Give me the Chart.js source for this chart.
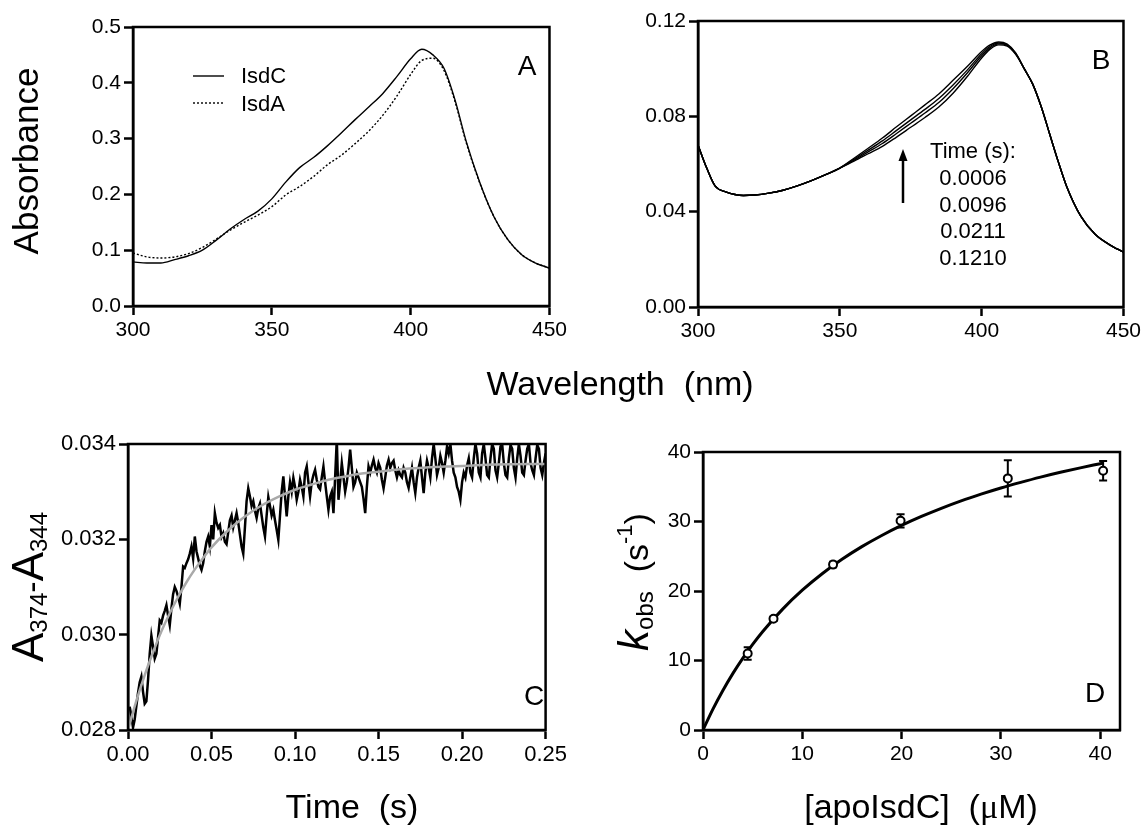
<!DOCTYPE html>
<html><head>
<meta charset="utf-8">
<title>IsdC spectra and kinetics</title>
<style>
  body { margin: 0; background: #fff; }
  #page { position: relative; width: 1144px; height: 831px; }
  canvas { position: absolute; }
  #wl { position: absolute; left: 420px; top: 363px; width: 400px; text-align: center;
        font: 34px 'Liberation Sans', Arial, sans-serif; line-height: 40px; white-space: pre; color: #000; }
</style>
</head>
<body>
<div id="page">
  <canvas id="chartA" width="570" height="345" style="left:0;top:0"></canvas>
  <canvas id="chartB" width="574" height="345" style="left:570px;top:0"></canvas>
  <canvas id="chartC" width="570" height="486" style="left:0;top:345px"></canvas>
  <canvas id="chartD" width="574" height="486" style="left:570px;top:345px"></canvas>
  <div id="wl">Wavelength  (nm)</div>
</div>
<script src="https://cdn.jsdelivr.net/npm/chart.js"></script>
<script>
const SANS = "'Liberation Sans', Arial, Helvetica, sans-serif";
Chart.defaults.font.family = SANS;
Chart.defaults.color = '#000';
Chart.defaults.animation = false;

// A: spectra of holo IsdC and IsdA
const aWave = [300, 305, 310, 315, 320, 325, 330, 335, 340, 345, 350, 355, 360, 365, 370, 375, 380,
               385, 390, 395, 400, 404, 408, 412, 416, 420, 425, 430, 435, 440, 445, 450];
const aIsdC = [0.079, 0.077, 0.077, 0.083, 0.090, 0.100, 0.118, 0.138, 0.155, 0.170, 0.192, 0.222, 0.248,
               0.266, 0.287, 0.310, 0.334, 0.357, 0.381, 0.411, 0.443, 0.460, 0.450, 0.426, 0.369, 0.295,
               0.220, 0.160, 0.119, 0.092, 0.077, 0.068];
const aIsdA = [0.095, 0.088, 0.086, 0.088, 0.094, 0.105, 0.120, 0.136, 0.150, 0.163, 0.178, 0.199, 0.214,
               0.232, 0.253, 0.270, 0.291, 0.314, 0.342, 0.376, 0.415, 0.440, 0.444, 0.422, 0.366, 0.293,
               0.219, 0.160, 0.119, 0.092, 0.077, 0.068];

// B: spectra during transfer, one per time point
const bTimes = ['0.0006', '0.0096', '0.0211', '0.1210'];
const bWave = [300, 303, 306, 310, 313, 316, 320, 325, 330, 335, 340, 345, 350, 355, 360, 365, 370, 375,
               380, 385, 390, 395, 400, 403, 406, 409, 412, 415, 418, 421, 424, 427, 430, 435, 440, 445, 450];
const bSpec1 = [0.0680, 0.0585, 0.0508, 0.0482, 0.0472, 0.0468, 0.0470, 0.0478, 0.0490, 0.0508, 0.0530,
                0.0555, 0.0583, 0.0612, 0.0643, 0.0674, 0.0713, 0.0754, 0.0795, 0.0840, 0.0898, 0.0968,
                0.1045, 0.1082, 0.1100, 0.1095, 0.1060, 0.1000, 0.0935, 0.0840, 0.0725, 0.0610, 0.0505,
                0.0380, 0.0305, 0.0262, 0.0230];
const bSpec2 = [0.0680, 0.0585, 0.0508, 0.0482, 0.0472, 0.0468, 0.0470, 0.0478, 0.0490, 0.0508, 0.0530,
                0.0555, 0.0583, 0.0616, 0.0651, 0.0686, 0.0728, 0.0771, 0.0814, 0.0859, 0.0917, 0.0983,
                0.1054, 0.1088, 0.1104, 0.1098, 0.1062, 0.1000, 0.0935, 0.0840, 0.0725, 0.0610, 0.0505,
                0.0380, 0.0305, 0.0262, 0.0230];
const bSpec3 = [0.0680, 0.0585, 0.0508, 0.0482, 0.0472, 0.0468, 0.0470, 0.0478, 0.0490, 0.0508, 0.0530,
                0.0555, 0.0583, 0.0620, 0.0658, 0.0697, 0.0741, 0.0785, 0.0829, 0.0876, 0.0933, 0.0995,
                0.1063, 0.1094, 0.1108, 0.1100, 0.1064, 0.1000, 0.0935, 0.0840, 0.0725, 0.0610, 0.0505,
                0.0380, 0.0305, 0.0262, 0.0230];
const bSpec4 = [0.0680, 0.0585, 0.0508, 0.0482, 0.0472, 0.0468, 0.0470, 0.0478, 0.0490, 0.0508, 0.0530,
                0.0555, 0.0583, 0.0624, 0.0666, 0.0709, 0.0756, 0.0802, 0.0848, 0.0895, 0.0952, 0.1010,
                0.1072, 0.1100, 0.1112, 0.1103, 0.1066, 0.1000, 0.0935, 0.0840, 0.0725, 0.0610, 0.0505,
                0.0380, 0.0305, 0.0262, 0.0230];

// C: A374-A344 trace (sampled every 1 ms from 1 ms) and its single-exponential fit
const cTraceStart = 0.001;
const cTraceStep = 0.001;
const cTrace = [
  0.02849, 0.02830, 0.02805, 0.02822, 0.02850, 0.02878, 0.02900, 0.02912, 0.02880, 0.02855,
  0.02860, 0.02905, 0.02960, 0.02998, 0.02975, 0.02950, 0.02960, 0.02995, 0.03030, 0.03025,
  0.03040, 0.03050, 0.03062, 0.03040, 0.03020, 0.03055, 0.03085, 0.03100, 0.03092, 0.03080,
  0.03065, 0.03100, 0.03143, 0.03140, 0.03150, 0.03158, 0.03170, 0.03185, 0.03160, 0.03206,
  0.03175, 0.03160, 0.03145, 0.03136, 0.03150, 0.03175, 0.03195, 0.03206, 0.03185, 0.03230,
  0.03200, 0.03255, 0.03235, 0.03224, 0.03230, 0.03205, 0.03213, 0.03195, 0.03190, 0.03215,
  0.03240, 0.03250, 0.03225, 0.03240, 0.03255, 0.03235, 0.03210, 0.03185, 0.03170, 0.03225,
  0.03280, 0.03307, 0.03290, 0.03270, 0.03280, 0.03260, 0.03245, 0.03265, 0.03275, 0.03250,
  0.03225, 0.03206, 0.03250, 0.03289, 0.03270, 0.03250, 0.03262, 0.03240, 0.03220, 0.03199,
  0.03250, 0.03300, 0.03332, 0.03290, 0.03248, 0.03290, 0.03320, 0.03300, 0.03329, 0.03310,
  0.03283, 0.03300, 0.03325, 0.03310, 0.03290, 0.03340, 0.03353, 0.03320, 0.03290, 0.03320,
  0.03335, 0.03346, 0.03325, 0.03310, 0.03305, 0.03330, 0.03353, 0.03320, 0.03290, 0.03262,
  0.03290, 0.03300, 0.03255, 0.03330, 0.03410, 0.03283, 0.03320, 0.03360, 0.03330, 0.03300,
  0.03320, 0.03350, 0.03388, 0.03350, 0.03310, 0.03320, 0.03340, 0.03330, 0.03320, 0.03310,
  0.03285, 0.03255, 0.03310, 0.03353, 0.03340, 0.03355, 0.03367, 0.03350, 0.03340, 0.03360,
  0.03350, 0.03325, 0.03307, 0.03330, 0.03355, 0.03367, 0.03350, 0.03360, 0.03365, 0.03345,
  0.03330, 0.03345, 0.03335, 0.03330, 0.03350, 0.03340, 0.03320, 0.03308, 0.03330, 0.03350,
  0.03320, 0.03297, 0.03330, 0.03350, 0.03365, 0.03330, 0.03297, 0.03340, 0.03365, 0.03350,
  0.03330, 0.03370, 0.03400, 0.03370, 0.03335, 0.03350, 0.03375, 0.03360, 0.03340, 0.03365,
  0.03395, 0.03380, 0.03400, 0.03365, 0.03340, 0.03330, 0.03310, 0.03300, 0.03283, 0.03320,
  0.03340, 0.03330, 0.03355, 0.03370, 0.03340, 0.03330, 0.03370, 0.03400, 0.03380, 0.03340,
  0.03330, 0.03380, 0.03400, 0.03370, 0.03335, 0.03330, 0.03370, 0.03400, 0.03390, 0.03345,
  0.03330, 0.03360, 0.03395, 0.03400, 0.03360, 0.03335, 0.03330, 0.03370, 0.03398, 0.03390,
  0.03350, 0.03330, 0.03370, 0.03400, 0.03375, 0.03340, 0.03335, 0.03365, 0.03390, 0.03400,
  0.03360, 0.03345, 0.03335, 0.03370, 0.03398, 0.03390, 0.03350, 0.03335, 0.03360, 0.03380
];
const cFitTime = [0, 0.005, 0.01, 0.015, 0.02, 0.025, 0.03, 0.035, 0.04, 0.045, 0.05, 0.06, 0.07, 0.08,
                  0.09, 0.10, 0.11, 0.12, 0.13, 0.14, 0.15, 0.16, 0.17, 0.18, 0.19, 0.20, 0.22, 0.24, 0.25];
const cFitAbs = [0.02800, 0.02861, 0.02915, 0.02963, 0.03007, 0.03045, 0.03079, 0.03110, 0.03137, 0.03161,
                 0.03183, 0.03219, 0.03248, 0.03271, 0.03289, 0.03304, 0.03315, 0.03325, 0.03332, 0.03338,
                 0.03342, 0.03346, 0.03349, 0.03351, 0.03353, 0.03354, 0.03357, 0.03358, 0.03358];

// D: observed rate vs apoIsdC concentration, with hyperbolic fit
const dConc = [4.5, 7.1, 13.1, 19.9, 30.7, 40.3];
const dKobs = [11.0, 16.0, 23.8, 30.1, 36.2, 37.3];
const dErr = [0.9, 0.3, 0.4, 0.95, 2.6, 1.4];
const dFitConc = [0, 1, 2, 3, 4, 5, 6, 8, 10, 12, 14, 16, 18, 20, 22, 24, 26, 28, 30, 32, 34, 36, 38, 40, 40.3];
const dFitKobs = [0, 3.00, 5.69, 8.11, 10.31, 12.31, 14.14, 17.36, 20.11, 22.48, 24.56, 26.38, 27.99, 29.44,
                  30.73, 31.90, 32.97, 33.93, 34.82, 35.63, 36.39, 37.08, 37.72, 38.32, 38.41];

function xy(xs, ys) { return xs.map((x, i) => ({ x: x, y: ys[i] })); }

function axis(min, max, step, digits, size, fit) {
  return {
    type: 'linear', min: min, max: max,
    ticks: { stepSize: step, includeBounds: false, padding: 3, color: '#000', font: { size: size },
             callback: v => v.toFixed(digits) },
    grid: { drawOnChartArea: false, drawTicks: true, tickLength: 9, tickWidth: 2.5, tickColor: '#000' },
    border: { display: true, color: '#000', width: 2.5 },
    afterFit: fit
  };
}

// text runs: [text, size, dy, style, family]
function drawRich(ctx, it) {
  ctx.save();
  ctx.translate(it.x, it.y);
  if (it.rot) ctx.rotate(it.rot);
  ctx.fillStyle = '#000';
  ctx.textBaseline = 'alphabetic';
  ctx.textAlign = 'left';
  const fontOf = p => (p[3] || '') + ' ' + p[1] + 'px ' + (p[4] || SANS);
  let w = 0;
  it.parts.forEach(p => { ctx.font = fontOf(p); w += ctx.measureText(p[0]).width; });
  let x = it.align === 'left' ? 0 : -w / 2;
  it.parts.forEach(p => {
    ctx.font = fontOf(p);
    ctx.fillText(p[0], x, p[2] || 0);
    x += ctx.measureText(p[0]).width;
  });
  ctx.restore();
}

// frame round the plot area plus the panel's texts and marks
function notes(items) {
  return {
    id: 'notes',
    afterDraw(chart) {
      const ctx = chart.ctx, a = chart.chartArea;
      ctx.save();
      ctx.strokeStyle = '#000';
      ctx.fillStyle = '#000';
      ctx.lineWidth = 2.5;
      ctx.strokeRect(a.left, a.top, a.right - a.left, a.bottom - a.top);
      items.forEach(it => { if (it.draw) it.draw(ctx); else drawRich(ctx, it); });
      ctx.restore();
    }
  };
}

const errorBars = {
  id: 'errorBars',
  beforeDatasetsDraw(chart) {
    const ctx = chart.ctx, x = chart.scales.x, y = chart.scales.y;
    ctx.save();
    ctx.strokeStyle = '#000';
    ctx.lineWidth = 2;
    dConc.forEach((c, i) => {
      const px = x.getPixelForValue(c);
      const top = y.getPixelForValue(dKobs[i] + dErr[i]);
      const bot = y.getPixelForValue(dKobs[i] - dErr[i]);
      ctx.beginPath();
      ctx.moveTo(px, top); ctx.lineTo(px, bot);
      ctx.moveTo(px - 4, top); ctx.lineTo(px + 4, top);
      ctx.moveTo(px - 4, bot); ctx.lineTo(px + 4, bot);
      ctx.stroke();
    });
    ctx.restore();
  }
};

const baseOpts = { responsive: false, plugins: { legend: { display: false }, tooltip: { enabled: false } } };
const ROT = -Math.PI / 2;

function line(data, extra) {
  return Object.assign({ data: data, borderColor: '#000', borderWidth: 1.4, pointRadius: 0,
                         cubicInterpolationMode: 'monotone' }, extra || {});
}

new Chart(document.getElementById('chartA'), {
  type: 'line',
  data: { datasets: [
    line(xy(aWave, aIsdC), { label: 'IsdC' }),
    line(xy(aWave, aIsdA), { label: 'IsdA', borderDash: [2, 2] })
  ] },
  options: Object.assign({}, baseOpts, {
    layout: { padding: { top: 27, right: 19, bottom: 0, left: 0 } },
    scales: {
      x: axis(300, 450, 50, 0, 21, s => { s.height = 39; }),
      y: axis(0, 0.5, 0.1, 1, 21, s => { s.width = 133; })
    }
  }),
  plugins: [notes([
    { x: 38, y: 161, rot: ROT, parts: [['Absorbance', 35]] },
    { x: 527, y: 75, parts: [['A', 28]] },
    { x: 241, y: 83, align: 'left', parts: [['IsdC', 22]] },
    { x: 241, y: 111, align: 'left', parts: [['IsdA', 22]] },
    { draw: ctx => {
        ctx.lineWidth = 1.4;
        ctx.beginPath(); ctx.moveTo(193, 76); ctx.lineTo(224, 76); ctx.stroke();
        ctx.setLineDash([2, 2]);
        ctx.beginPath(); ctx.moveTo(193, 103); ctx.lineTo(224, 103); ctx.stroke();
        ctx.setLineDash([]);
    } }
  ])]
});

new Chart(document.getElementById('chartB'), {
  type: 'line',
  data: { datasets: [bSpec1, bSpec2, bSpec3, bSpec4].map((s, i) => line(xy(bWave, s), { label: bTimes[i] })) },
  options: Object.assign({}, baseOpts, {
    layout: { padding: { top: 21, right: 20, bottom: 0, left: 0 } },
    scales: {
      x: axis(300, 450, 50, 0, 21, s => { s.height = 38; }),
      y: axis(0, 0.12, 0.04, 2, 21, s => { s.width = 128; })
    }
  }),
  plugins: [notes([
    { x: 531, y: 69, parts: [['B', 28]] },
    { x: 403, y: 158, parts: [['Time (s):', 22]] }
  ].concat(bTimes.map((t, i) => ({ x: 403, y: 185 + i * 26.5, parts: [[t, 22]] }))).concat([
    { draw: ctx => {
        ctx.lineWidth = 2.5;
        ctx.beginPath(); ctx.moveTo(333, 203); ctx.lineTo(333, 158); ctx.stroke();
        ctx.beginPath(); ctx.moveTo(333, 149); ctx.lineTo(328.5, 161); ctx.lineTo(337.5, 161);
        ctx.closePath(); ctx.fill();
    } }
  ]))]
});

new Chart(document.getElementById('chartC'), {
  type: 'line',
  data: { datasets: [
    line(xy(cFitTime, cFitAbs), { label: 'fit', borderColor: '#a9a9a9', borderWidth: 2.5 }),
    line(cTrace.map((v, i) => ({ x: cTraceStart + i * cTraceStep, y: v })),
         { label: 'A374-A344', borderWidth: 2.5, cubicInterpolationMode: 'default', tension: 0 })
  ] },
  options: Object.assign({}, baseOpts, {
    layout: { padding: { top: 99, right: 14, bottom: 0, left: 0 } },
    scales: {
      x: axis(0, 0.25, 0.05, 2, 22, s => { s.height = 101; }),
      y: axis(0.028, 0.034, 0.002, 3, 22, s => { s.width = 128; })
    }
  }),
  plugins: [notes([
    { x: 43, y: 242, rot: ROT, parts: [['A', 44], ['374', 24, 4], ['-', 34], ['A', 44], ['344', 24, 4]] },
    { x: 352, y: 473, parts: [['Time  (s)', 34]] },
    { x: 534, y: 360, parts: [['C', 28]] }
  ])]
});

new Chart(document.getElementById('chartD'), {
  type: 'line',
  data: { datasets: [
    { label: 'kobs', data: xy(dConc, dKobs), showLine: false, pointRadius: 4, pointBorderWidth: 2,
      pointBackgroundColor: '#fff', pointBorderColor: '#000' },
    line(xy(dFitConc, dFitKobs), { label: 'fit', borderWidth: 3 })
  ] },
  options: Object.assign({}, baseOpts, {
    layout: { padding: { top: 107, right: 24, bottom: 0, left: 0 } },
    scales: {
      x: axis(0, 42, 10, 0, 21, s => { s.height = 101; }),
      y: axis(0, 40, 10, 0, 21, s => { s.width = 133; })
    }
  }),
  plugins: [errorBars, notes([
    { x: 78, y: 237, rot: ROT, parts: [['k', 42, 0, 'italic'], ['obs', 24, 5], ['  (s', 34], ['-1', 22, -16], [')', 34]] },
    { x: 351, y: 473, parts: [['[apoIsdC]  (', 34], ['\u03bc', 34, 0, '', "'Liberation Serif', serif"], ['M)', 34]] },
    { x: 525, y: 357, parts: [['D', 28]] }
  ])]
});
</script>
</body></html>
